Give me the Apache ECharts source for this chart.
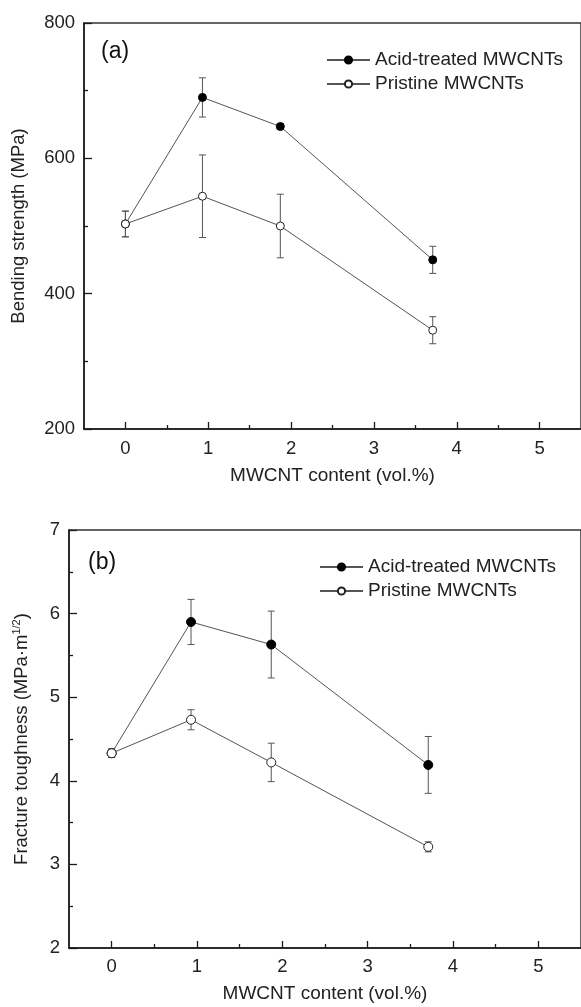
<!DOCTYPE html>
<html>
<head>
<meta charset="utf-8">
<style>
html,body{margin:0;padding:0;background:#fff;}
#c{width:581px;height:1007px;}
</style>
<script src="https://cdn.jsdelivr.net/npm/echarts@6/dist/echarts.min.js"></script>
</head>
<body>
<div id="c"></div>
<script>
// ---- data ----
var xValues = [0, 0.93, 1.87, 3.71];
var seriesNames = ['Acid-treated MWCNTs', 'Pristine MWCNTs'];
var bendAcid = [503, 690, 647, 450];
var bendAcidErr = [19, 29, 4, 20];
var bendPristine = [503, 544, 500, 346];
var bendPristineErr = [19, 61, 47, 20];
var toughAcid = [4.33, 5.90, 5.63, 4.19];
var toughAcidErr = [0.05, 0.27, 0.40, 0.34];
var toughPristine = [4.33, 4.73, 4.22, 3.21];
var toughPristineErr = [0.05, 0.12, 0.23, 0.06];
var xMajorTicks = [0, 1, 2, 3, 4, 5];
var xMinorTicks = [0.5, 1.5, 2.5, 3.5, 4.5];
var panelLabels = ['(a)', '(b)'];
var xTitle = 'MWCNT content (vol.%)';
var yTitleA = 'Bending strength (MPa)';
var yTitleB = 'Fracture toughness (MPa·m{sup|1/2})';

var FONT = '"Liberation Sans", Arial, Helvetica, sans-serif';
var AX = '#1a1a1a';

function pairs(xs, ys) { return xs.map(function (x, i) { return [x, ys[i]]; }); }
function errs(xs, ys, es) { return xs.map(function (x, i) { return [x, ys[i] - es[i], ys[i] + es[i]]; }); }

function renderErr(params, api) {
  var x = api.value(0), lo = api.value(1), hi = api.value(2);
  var p1 = api.coord([x, hi]), p2 = api.coord([x, lo]);
  var w = 3.5;
  var st = { stroke: '#555', lineWidth: 1 };
  return { type: 'group', children: [
    { type: 'line', shape: { x1: p1[0], y1: p1[1], x2: p2[0], y2: p2[1] }, style: st },
    { type: 'line', shape: { x1: p1[0] - w, y1: p1[1], x2: p1[0] + w, y2: p1[1] }, style: st },
    { type: 'line', shape: { x1: p2[0] - w, y1: p2[1], x2: p2[0] + w, y2: p2[1] }, style: st }
  ]};
}

function mainX(gi, gap, margin) {
  return {
    type: 'value', gridIndex: gi, min: -0.5, max: 5.5,
    axisLine: { show: true, onZero: false, lineStyle: { color: AX, width: 1.5 } },
    axisTick: { show: true, inside: true, length: 7, customValues: xMajorTicks, lineStyle: { color: AX, width: 1.3 } },
    axisLabel: { show: true, customValues: xMajorTicks, margin: margin, fontSize: 18.5, color: '#222', fontFamily: FONT },
    splitLine: { show: false },
    name: xTitle, nameLocation: 'middle', nameGap: gap,
    nameTextStyle: { fontSize: 19, color: '#222', fontFamily: FONT }
  };
}
function minorX(gi) {
  return {
    type: 'value', gridIndex: gi, min: -0.5, max: 5.5, position: 'bottom',
    axisLine: { show: false, onZero: false },
    axisTick: { show: true, inside: true, length: 4, customValues: xMinorTicks, lineStyle: { color: AX, width: 1.3 } },
    axisLabel: { show: false, customValues: xMinorTicks },
    splitLine: { show: false }
  };
}
function yAx(gi, min, max, interval, name, gap, rich) {
  return {
    type: 'value', gridIndex: gi, min: min, max: max, interval: interval,
    axisLine: { show: true, onZero: false, lineStyle: { color: AX, width: 1.5 } },
    axisTick: { show: true, inside: true, length: 8, lineStyle: { color: AX, width: 1.3 } },
    minorTick: { show: true, splitNumber: 2, length: 4, lineStyle: { color: AX, width: 1.3 } },
    axisLabel: { margin: 9, fontSize: 18.5, color: '#222', fontFamily: FONT },
    splitLine: { show: false },
    name: name, nameLocation: 'middle', nameGap: gap,
    nameTextStyle: { fontSize: 18.5, color: '#222', fontFamily: FONT, lineHeight: 22, rich: rich || {} }
  };
}
function lineSeries(name, xi, yi, data, filled, size) {
  return {
    type: 'line', name: name, xAxisIndex: xi, yAxisIndex: yi, data: data,
    symbol: 'circle', symbolSize: size, z: 3,
    lineStyle: { color: '#555', width: 1 },
    itemStyle: filled ? { color: '#000', borderColor: '#000', borderWidth: 1 }
                      : { color: '#fff', borderColor: '#222', borderWidth: 1 },
    emphasis: { disabled: true }, animation: false
  };
}
function errSeries(name, xi, yi, data) {
  return {
    type: 'custom', name: name + ' err', xAxisIndex: xi, yAxisIndex: yi, data: data,
    renderItem: renderErr, encode: { x: 0, y: [1, 2] }, z: 2, animation: false, silent: true
  };
}
function legendAt(left, top) {
  return {
    orient: 'vertical', left: left, top: top, data: seriesNames,
    itemWidth: 43, itemHeight: 9, itemGap: 4, selectedMode: false,
    textStyle: { fontSize: 19, color: '#222', fontFamily: FONT, lineHeight: 20 }
  };
}

var supRich = { sup: { fontSize: 11, verticalAlign: 'top', lineHeight: 22, color: '#222', fontFamily: FONT } };

var option = {
  animation: false,
  backgroundColor: '#fff',
  grid: [
    { left: 82, top: 23, width: 500, height: 406, show: true, borderColor: '#333', borderWidth: 1.5 },
    { left: 69, top: 530, width: 516, height: 418, show: true, borderColor: '#333', borderWidth: 1.5 }
  ],
  xAxis: [mainX(0, 37, 10), minorX(0), mainX(1, 36, 9), minorX(1)],
  yAxis: [
    yAx(0, 200, 800, 200, yTitleA, 54),
    yAx(1, 2, 7, 1, yTitleB, 36, supRich)
  ],
  legend: [legendAt(321, 45), legendAt(314, 552)],
  graphic: [
    { type: 'text', left: 101, top: 40, style: { text: panelLabels[0], fontSize: 23, fill: '#111', fontFamily: FONT } },
    { type: 'text', left: 88, top: 551, style: { text: panelLabels[1], fontSize: 23, fill: '#111', fontFamily: FONT } }
  ],
  series: [
    errSeries(seriesNames[0], 0, 0, errs(xValues, bendAcid, bendAcidErr)),
    errSeries(seriesNames[1], 0, 0, errs(xValues, bendPristine, bendPristineErr)),
    lineSeries(seriesNames[0], 0, 0, pairs(xValues, bendAcid), true, 8),
    lineSeries(seriesNames[1], 0, 0, pairs(xValues, bendPristine), false, 8),
    errSeries(seriesNames[0], 2, 1, errs(xValues, toughAcid, toughAcidErr)),
    errSeries(seriesNames[1], 2, 1, errs(xValues, toughPristine, toughPristineErr)),
    lineSeries(seriesNames[0], 2, 1, pairs(xValues, toughAcid), true, 9),
    lineSeries(seriesNames[1], 2, 1, pairs(xValues, toughPristine), false, 9)
  ]
};

var chart = echarts.init(document.getElementById('c'), null, { renderer: 'canvas' });
chart.setOption(option);
</script>
</body>
</html>
